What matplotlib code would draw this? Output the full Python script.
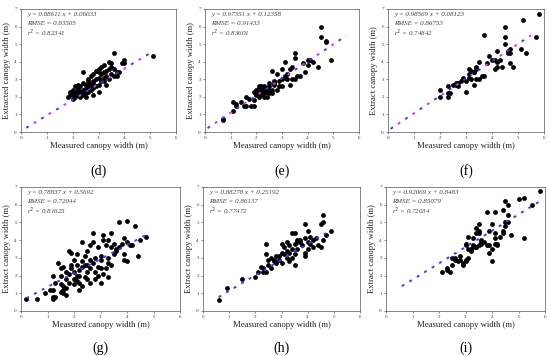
import matplotlib
matplotlib.use('Agg')
import matplotlib.pyplot as plt

plt.rcParams['font.family'] = ['Liberation Serif', 'DejaVu Serif']

# ---- data (measured, extracted) ----
d_x = [1.8, 1.9, 1.9, 2.0, 2.0, 2.0, 2.1, 2.1, 2.1, 2.2, 2.2, 2.2, 2.2, 2.3, 2.3, 2.3, 2.3, 2.4, 2.4, 2.4,
       2.4, 2.5, 2.5, 2.5, 2.5, 2.6, 2.6, 2.6, 2.6, 2.7, 2.7, 2.7, 2.8, 2.8, 2.8, 2.8, 2.9, 2.9, 2.9, 3.0,
       3.0, 3.0, 3.0, 3.1, 3.1, 3.1, 3.2, 3.2, 3.2, 3.3, 3.3, 3.4, 3.4, 3.4, 3.5, 3.5, 3.5, 3.6, 3.6, 3.6,
       3.7, 3.7, 3.8, 3.9, 4.0, 4.0, 5.1, 2.4, 2.8, 3.2, 2.0, 2.6, 3.0, 3.3, 2.2]
d_y = [2.0, 2.3, 2.1, 1.9, 2.2, 2.4, 2.0, 2.3, 2.6, 2.1, 2.2, 2.5, 2.4, 2.0, 2.3, 2.6, 2.2, 2.1, 2.4, 2.8,
       3.4, 2.2, 2.5, 2.7, 2.0, 2.3, 2.6, 2.8, 3.0, 2.4, 2.7, 3.2, 2.1, 2.5, 2.9, 3.3, 2.6, 3.0, 3.5, 2.3,
       2.7, 3.1, 3.6, 2.9, 3.3, 3.7, 2.9, 3.4, 3.8, 3.2, 3.5, 3.0, 3.6, 4.0, 3.3, 3.7, 3.9, 3.2, 3.6, 4.5,
       3.4, 3.2, 3.4, 3.9, 3.9, 4.1, 4.3, 2.3, 2.8, 3.1, 2.1, 2.9, 3.4, 2.7, 2.7]

e_x = [0.7, 0.7, 1.1, 1.1, 1.2, 1.2, 1.4, 1.5, 1.6, 1.6, 1.8, 1.9, 1.9, 1.9, 2.0, 2.0, 2.1, 2.1, 2.1, 2.2,
       2.2, 2.2, 2.3, 2.3, 2.3, 2.4, 2.4, 2.4, 2.5, 2.5, 2.5, 2.6, 2.6, 2.6, 2.7, 2.7, 2.8, 2.8, 2.9, 2.9,
       3.0, 3.0, 3.0, 3.1, 3.1, 3.2, 3.2, 3.3, 3.3, 3.4, 3.4, 3.5, 3.5, 3.5, 3.6, 3.7, 3.8, 3.9, 4.0, 4.0,
       4.1, 4.2, 4.4, 4.5, 4.5, 4.7, 4.7, 4.9, 2.0, 2.2, 2.4, 2.1, 2.3, 2.5, 1.7, 3.1, 2.7]
e_y = [0.7, 0.75, 1.7, 1.2, 1.6, 1.5, 1.7, 1.5, 1.5, 2.0, 1.5, 1.5, 2.3, 1.8, 2.1, 2.4, 2.2, 2.5, 2.0, 2.3,
       2.6, 2.1, 2.4, 2.2, 2.6, 2.3, 2.5, 2.0, 2.2, 2.6, 2.8, 2.4, 3.5, 2.2, 2.7, 2.9, 2.4, 3.3, 2.9, 2.6,
       3.0, 2.6, 3.6, 3.2, 4.0, 3.0, 3.3, 2.7, 3.6, 3.0, 3.7, 4.5, 4.2, 3.0, 3.2, 3.2, 3.9, 3.4, 4.1, 3.8,
       4.1, 4.0, 3.7, 6.0, 5.4, 5.2, 5.1, 4.1, 2.2, 2.5, 2.4, 2.6, 2.0, 2.4, 1.9, 3.1, 2.8]

f_x = [2.0, 2.0, 2.3, 2.3, 2.3, 2.4, 2.5, 2.6, 2.6, 2.7, 2.8, 2.9, 3.0, 3.0, 3.1, 3.1, 3.2, 3.2, 3.3, 3.3,
       3.4, 3.4, 3.4, 3.5, 3.5, 3.6, 3.7, 3.7, 3.8, 3.9, 4.0, 4.1, 4.1, 4.2, 4.2, 4.2, 4.3, 4.4, 4.5, 4.5,
       4.5, 4.6, 4.6, 4.7, 4.7, 4.7, 4.8, 5.1, 5.2, 5.3, 5.7, 5.8, 2.9, 3.3, 2.7, 3.1]
f_y = [2.4, 2.0, 2.6, 2.0, 2.2, 2.2, 2.7, 2.7, 2.8, 2.6, 2.9, 3.0, 2.3, 2.9, 3.6, 3.3, 3.0, 3.5, 2.7, 3.4,
       3.7, 3.6, 3.0, 4.0, 3.0, 3.2, 5.5, 3.2, 3.9, 4.3, 4.1, 4.1, 3.6, 3.7, 4.0, 4.6, 4.1, 3.7, 6.0, 5.4,
       5.0, 4.5, 4.6, 4.7, 3.9, 4.5, 3.7, 4.7, 6.4, 4.5, 5.4, 6.7, 3.1, 3.4, 2.8, 3.1]

g_x = [0.2, 0.6, 0.9, 1.1, 1.2, 1.2, 1.2, 1.3, 1.2, 1.3, 1.4, 1.5, 1.5, 1.5, 1.5, 1.6, 1.6, 1.6, 1.6, 1.7,
       1.7, 1.7, 1.7, 1.8, 1.8, 1.9, 1.9, 1.9, 2.0, 2.0, 2.0, 2.0, 2.1, 2.1, 2.1, 2.2, 2.2, 2.2, 2.3, 2.3,
       2.3, 2.3, 2.4, 2.4, 2.4, 2.5, 2.5, 2.5, 2.6, 2.6, 2.6, 2.6, 2.7, 2.7, 2.7, 2.8, 2.8, 2.8, 2.9, 2.9,
       2.9, 3.0, 3.0, 3.0, 3.1, 3.1, 3.1, 3.2, 3.2, 3.3, 3.3, 3.3, 3.3, 3.4, 3.4, 3.4, 3.5, 3.5, 3.6, 3.7,
       3.7, 3.8, 3.9, 3.9, 3.9, 4.0, 4.0, 4.0, 4.1, 4.2, 4.3, 4.4, 4.5, 4.7, 3.6, 2.2, 1.8, 3.0, 2.5, 2.1]
g_y = [0.7, 0.7, 1.0, 1.2, 1.2, 0.7, 0.8, 0.8, 2.0, 1.6, 2.7, 2.4, 2.0, 1.5, 1.1, 1.4, 1.0, 2.5, 1.2, 2.2,
       1.8, 1.3, 0.9, 3.4, 1.6, 3.3, 2.4, 2.6, 1.8, 1.5, 2.2, 2.9, 3.2, 2.0, 1.7, 2.3, 1.6, 1.2, 3.9, 2.8,
       2.5, 1.4, 1.9, 2.6, 3.1, 2.2, 1.8, 3.4, 3.7, 2.9, 2.4, 1.6, 4.4, 3.9, 2.7, 2.2, 1.8, 3.0, 2.5, 3.6,
       2.0, 2.9, 1.6, 2.4, 4.3, 4.0, 2.1, 3.7, 2.4, 2.7, 1.9, 3.0, 4.0, 4.4, 3.6, 2.6, 3.8, 3.2, 3.5, 5.0,
       3.6, 3.8, 4.1, 3.2, 2.9, 5.1, 2.8, 3.9, 3.7, 3.7, 4.8, 3.1, 4.0, 4.2, 3.4, 2.0, 2.1, 3.1, 2.6, 2.6]

h_x = [0.6, 0.9, 1.5, 2.0, 2.1, 2.2, 2.3, 2.3, 2.4, 2.4, 2.4, 2.5, 2.5, 2.6, 2.6, 2.7, 2.7, 2.8, 2.8, 2.9,
       3.0, 3.0, 3.0, 3.1, 3.1, 3.2, 3.2, 3.3, 3.3, 3.3, 3.4, 3.4, 3.4, 3.5, 3.5, 3.5, 3.5, 3.6, 3.6, 3.7,
       3.7, 3.8, 3.9, 3.9, 3.9, 3.9, 4.0, 4.0, 4.0, 4.1, 4.1, 4.2, 4.2, 4.3, 4.4, 4.5, 4.5, 4.6, 4.6, 4.6,
       4.7, 4.9, 3.2, 3.6, 2.9]
h_y = [0.6, 1.3, 1.8, 1.9, 2.2, 2.5, 2.2, 2.4, 3.8, 3.2, 2.2, 2.6, 2.9, 3.0, 2.4, 2.8, 2.9, 3.1, 2.7, 2.9,
       2.7, 3.8, 3.3, 3.6, 3.2, 3.9, 3.0, 2.8, 3.3, 3.7, 4.4, 3.5, 3.0, 4.4, 3.8, 3.2, 2.6, 4.0, 3.5, 3.9,
       4.0, 3.7, 4.9, 4.1, 3.3, 3.1, 4.5, 3.5, 3.9, 4.2, 3.8, 4.0, 3.6, 4.1, 3.7, 4.9, 3.6, 5.4, 5.0, 4.0,
       4.3, 4.5, 3.4, 3.9, 3.1]

i_x = [2.1, 2.3, 2.3, 2.4, 2.5, 2.5, 2.6, 2.6, 2.7, 2.8, 2.8, 2.9, 2.9, 3.0, 3.0, 3.0, 3.0, 3.1, 3.1, 3.1,
       3.2, 3.3, 3.3, 3.3, 3.4, 3.4, 3.4, 3.5, 3.5, 3.5, 3.5, 3.6, 3.6, 3.7, 3.8, 3.8, 3.9, 3.9, 3.9, 4.0,
       4.0, 4.0, 4.1, 4.1, 4.1, 4.1, 4.2, 4.2, 4.3, 4.4, 4.4, 4.4, 4.5, 4.5, 4.5, 4.6, 4.6, 4.6, 4.7, 5.0,
       5.2, 5.2, 5.5, 5.8, 3.2, 3.4, 3.6]
i_y = [2.2, 2.4, 2.3, 2.2, 2.6, 3.0, 3.0, 2.9, 2.8, 3.1, 2.9, 2.7, 2.6, 3.8, 3.7, 2.9, 2.8, 4.2, 3.5, 3.0,
       3.4, 3.7, 3.6, 4.1, 4.7, 4.4, 3.6, 4.9, 4.5, 4.4, 3.7, 4.0, 3.9, 3.9, 5.6, 3.7, 4.5, 3.3, 3.7, 4.9,
       3.5, 2.8, 5.6, 4.4, 4.1, 3.8, 3.8, 3.7, 4.2, 5.7, 4.5, 4.4, 6.2, 4.8, 5.0, 6.0, 5.4, 5.0, 4.3, 6.3,
       6.4, 4.1, 6.0, 6.8, 3.5, 3.6, 3.8]

labels = ['(d)', '(e)', '(f)', '(g)', '(h)', '(i)']
slopes = [0.88611, 0.97351, 0.98569, 0.78837, 0.88278, 0.92069]
intercepts = [0.06033, 0.12358, 0.08123, 0.5692, 0.25192, 0.8483]
eq_text = ['y = 0.88611 x + 0.06033', 'y = 0.97351 x + 0.12358', 'y = 0.98569 x + 0.08123',
           'y = 0.78837 x + 0.5692', 'y = 0.88278 x + 0.25192', 'y = 0.92069 x + 0.8483']
rmse_text = ['0.83505', '0.91433', '0.86753', '0.72044', '0.86137', '0.85079']
r2_text = ['0.82341', '0.83601', '0.74842', '0.81625', '0.77472', '0.72034']
fit_range = [(0.2, 5.1), (0.1, 5.5), (0.1, 5.5), (0.2, 4.7), (0.6, 4.7), (0.6, 5.8)]
ylabels = ['Extracted canopy width (m)', 'Extracted canopy width (m)', 'Extract canopy width (m)',
           'Extract canopy width (m)', 'Extract canopy width (m)', 'Extract canopy width (m)']
xs = [d_x, e_x, f_x, g_x, h_x, i_x]
ys = [d_y, e_y, f_y, g_y, h_y, i_y]

W, H = 550, 356
# axes boxes in pixels: left, top, right, bottom
boxes = [(21, 9, 176, 132), (205, 9, 359, 132), (388, 9, 544, 132),
         (21, 187, 180, 311), (203, 187, 360, 311), (386, 187, 545, 311)]
line_cols = [('#3a3aff', '#c040ff'), ('#3a3aff', '#c040ff'), ('#3a3aff', '#c040ff'),
             ('#3a3aff', '#3a3aff'), ('#3a3aff', '#3a3aff'), ('#3a3aff', '#3a3aff')]

fig = plt.figure(figsize=(W / 100, H / 100), dpi=100)

for k in range(6):
    l, t, r, b = boxes[k]
    ax = fig.add_axes([l / W, 1 - b / H, (r - l) / W, (b - t) / H])
    ax.scatter(xs[k], ys[k], s=12, c='black', linewidths=0, zorder=3)

    x0, x1 = fit_range[k]
    fx = [x0, x1]
    fy = [slopes[k] * x0 + intercepts[k], slopes[k] * x1 + intercepts[k]]
    c1, c2 = line_cols[k]
    ax.plot(fx, fy, color=c1, lw=1.4, dashes=(1.5, 7.5), zorder=4)
    ax.plot(fx, fy, color=c2, lw=1.4, dashes=(0, 4.5, 1.5, 3.0), zorder=4)

    ax.set_xlim(0, 6)
    ax.set_ylim(0, 7)
    ax.set_xticks(range(7))
    ax.set_yticks(range(8))
    ax.tick_params(labelsize=3.6, length=1.5, width=0.4, pad=1.5, colors='#333333')
    for sp in ax.spines.values():
        sp.set_linewidth(0.5)
        sp.set_color('#555555')
    ax.set_xlabel('Measured canopy width (m)', fontsize=6.2, labelpad=1.5, color='#222222')
    ax.set_ylabel(ylabels[k], fontsize=6.2, labelpad=2, color='#222222')

    txt_kw = dict(transform=ax.transAxes, fontsize=5, style='italic', color='#444444',
                  ha='left', va='center')
    ax.text(0.04, 0.955, eq_text[k], **txt_kw)
    ax.text(0.04, 0.88, 'RMSE = ' + rmse_text[k], **txt_kw)
    ax.text(0.04, 0.805, r'r$^2$ = ' + r2_text[k], **txt_kw)

    cy = 171 if k < 3 else 348
    fig.text((l + r) / 2 / W, 1 - cy / H, labels[k], fontsize=10, ha='center', va='center')

fig.savefig('out.png', dpi=100)
